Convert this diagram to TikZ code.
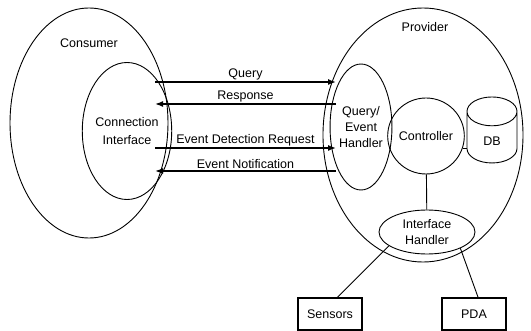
\documentclass[tikz,border=0pt]{standalone}
\usepackage{fontspec}
\setmainfont{Liberation Sans}
\usetikzlibrary{shapes.geometric,arrows.meta}

\tikzset{
  oval/.style={draw, ellipse, inner sep=0pt, line width=0.9pt, align=center},
  lbl/.style={font=\fontsize{12.5}{16}\selectfont},
  msg/.style={line width=1.5pt, -{Latex[length=8pt,width=6pt]}},
  dev/.style={draw, rectangle, line width=1.1pt, minimum width=64pt, minimum height=32pt}
}

\begin{document}
\begin{tikzpicture}[x=1pt,y=-1pt]

  \useasboundingbox (0,0) rectangle (531,331);

  % consumer side
  \node[oval, minimum width=158pt, minimum height=230pt] (cons) at (89,123) {};
  \node[lbl] (conslbl) at (89,43) {Consumer};
  \node[oval, lbl, font=\fontsize{12.5}{18}\selectfont, minimum width=78pt, minimum height=137pt] (ci) at (127,131) {Connection\\Interface};

  % provider side
  \node[oval, minimum width=200pt, minimum height=254pt] (prov) at (423,135) {};
  \node[lbl] (provlbl) at (425,27) {Provider};
  \node[oval, lbl, minimum width=48pt, minimum height=126pt] (qeh) at (361,127) {Query/\\Event\\Handler};
  \node[oval, lbl, minimum width=62pt, minimum height=76pt] (ctrl) at (426,136) {Controller};
  \node[draw, cylinder, shape border rotate=90, shape aspect=1.2, line width=0.9pt, lbl,
        minimum width=50pt, minimum height=66pt] (db) at (492,141) {DB};
  \node[oval, lbl, minimum width=96pt, minimum height=44pt] (ih) at (427,232) {Interface\\Handler};

  % devices
  \node[dev, lbl] (sens) at (330,314) {Sensors};
  \node[dev, lbl] (pda) at (474,314) {PDA};

  \draw[line width=0.9pt] (qeh.-36) -- (ctrl.198);
  \draw[line width=0.9pt] (ctrl.-18) -- (db.west |- ctrl.-18);
  \draw[line width=0.9pt] (ctrl) -- (ih);
  \draw[line width=0.9pt] (ih.200) -- (sens.66);
  \draw[line width=0.9pt] (ih.-26) -- (pda.76);

  % messages
  \foreach \y/\m in {82/q, 104/r, 148/e, 171/n}
  {
    \coordinate (\m l) at (155,\y);
    \coordinate (\m r) at (336,\y);
  }

  \draw[msg] (ql) -- node[lbl, above, inner sep=1.5pt] {Query} (qr);
  \draw[msg] (rr) -- node[lbl, above, inner sep=1.5pt] {Response} (rl);
  \draw[msg] (el) -- node[lbl, above, inner sep=1.5pt] {Event Detection Request} (er);
  \draw[msg] (nr) -- node[lbl, above, inner sep=1.5pt] {Event Notification} (nl);

\end{tikzpicture}
\end{document}
